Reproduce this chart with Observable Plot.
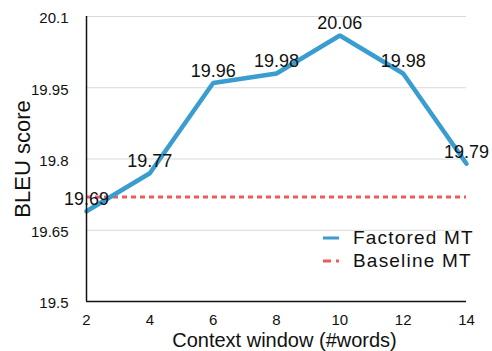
<!DOCTYPE html>
<html>
<head>
<meta charset="utf-8">
<script src="https://cdn.jsdelivr.net/npm/d3@7"></script>
<script src="https://cdn.jsdelivr.net/npm/@observablehq/plot@0.6"></script>
<style>
  body { margin: 0; background: #fff; font-family: "Liberation Sans", Arial, Helvetica, sans-serif; }
  #wrap { position: relative; width: 492px; height: 351px; }
  .legend { position: absolute; left: 323px; top: 226.5px; font-size: 19px; letter-spacing: 1.2px; color: #111; }
  .legend .row { display: flex; align-items: center; height: 23px; }
  .legend svg { margin-right: 14px; flex: none; }
</style>
</head>
<body>
<div id="wrap"></div>
<script>
// BLEU score by context window size
const contextWindow = [2, 4, 6, 8, 10, 12, 14];
const factoredBleu = [19.69, 19.77, 19.96, 19.98, 20.06, 19.98, 19.79];
const baselineBleu = 19.72;

const xTicks = [2, 4, 6, 8, 10, 12, 14];
const yTicks = [19.5, 19.65, 19.8, 19.95, 20.1];

const seriesNames = ["Factored MT", "Baseline MT"];
const seriesColors = ["#3a9dd0", "#f05a5a"];
const xTitle = "Context window (#words)";
const yTitle = "BLEU score";

const points = contextWindow.map((w, i) => ({window: w, bleu: factoredBleu[i]}));

const chart = Plot.plot({
  width: 492,
  height: 351,
  marginLeft: 86,
  marginRight: 26,
  marginTop: 16,
  marginBottom: 50,
  style: {fontFamily: "'Liberation Sans', Arial, Helvetica, sans-serif", background: "#fff", color: "#111"},
  x: {domain: [xTicks[0], xTicks[xTicks.length - 1]]},
  y: {domain: [yTicks[0], yTicks[yTicks.length - 1]]},
  marks: [
    Plot.gridY(yTicks.slice(1), {stroke: "#d9d9d9", strokeOpacity: 1, strokeWidth: 1}),
    Plot.ruleY([baselineBleu], {stroke: seriesColors[1], strokeWidth: 3, strokeDasharray: "5,4"}),
    Plot.line(points, {x: "window", y: "bleu", stroke: seriesColors[0], strokeWidth: 4.5, strokeLinejoin: "miter"}),
    Plot.ruleX([xTicks[0]], {stroke: "#111", strokeWidth: 1.5}),
    Plot.ruleY([yTicks[0]], {stroke: "#111", strokeWidth: 1.5}),
    Plot.axisY(yTicks, {tickSize: 0, tickPadding: 18, fontSize: 15, dy: 2, tickFormat: d => `${d}`, label: null}),
    Plot.axisX(xTicks, {tickSize: 0, tickPadding: 12.5, fontSize: 15, tickFormat: d => `${d}`, label: null}),
    Plot.text(points, {x: "window", y: "bleu", text: d => d.bleu.toFixed(2), dy: -12, fontSize: 18, fill: "#111"}),
    Plot.text([yTitle], {text: d => d, frameAnchor: "left", textAnchor: "middle", lineAnchor: "middle", dx: -63.5, rotate: -90, fontSize: 22, fill: "#111"}),
    Plot.text([xTitle], {text: d => d, frameAnchor: "bottom", textAnchor: "middle", lineAnchor: "middle", dx: 8, dy: 39.5, fontSize: 20, fill: "#111"})
  ]
});

const wrap = document.getElementById("wrap");
wrap.appendChild(chart);

// legend inside the plot area
const legend = document.createElement("div");
legend.className = "legend";
const swatches = [
  `<svg width="16" height="4"><line x1="0" y1="2" x2="16" y2="2" stroke="${seriesColors[0]}" stroke-width="3"/></svg>`,
  `<svg width="16" height="4"><line x1="0" y1="2" x2="16" y2="2" stroke="${seriesColors[1]}" stroke-width="3" stroke-dasharray="8,5"/></svg>`
];
seriesNames.forEach((name, i) => {
  const row = document.createElement("div");
  row.className = "row";
  row.innerHTML = swatches[i] + `<span>${name}</span>`;
  legend.appendChild(row);
});
wrap.appendChild(legend);
</script>
</body>
</html>
